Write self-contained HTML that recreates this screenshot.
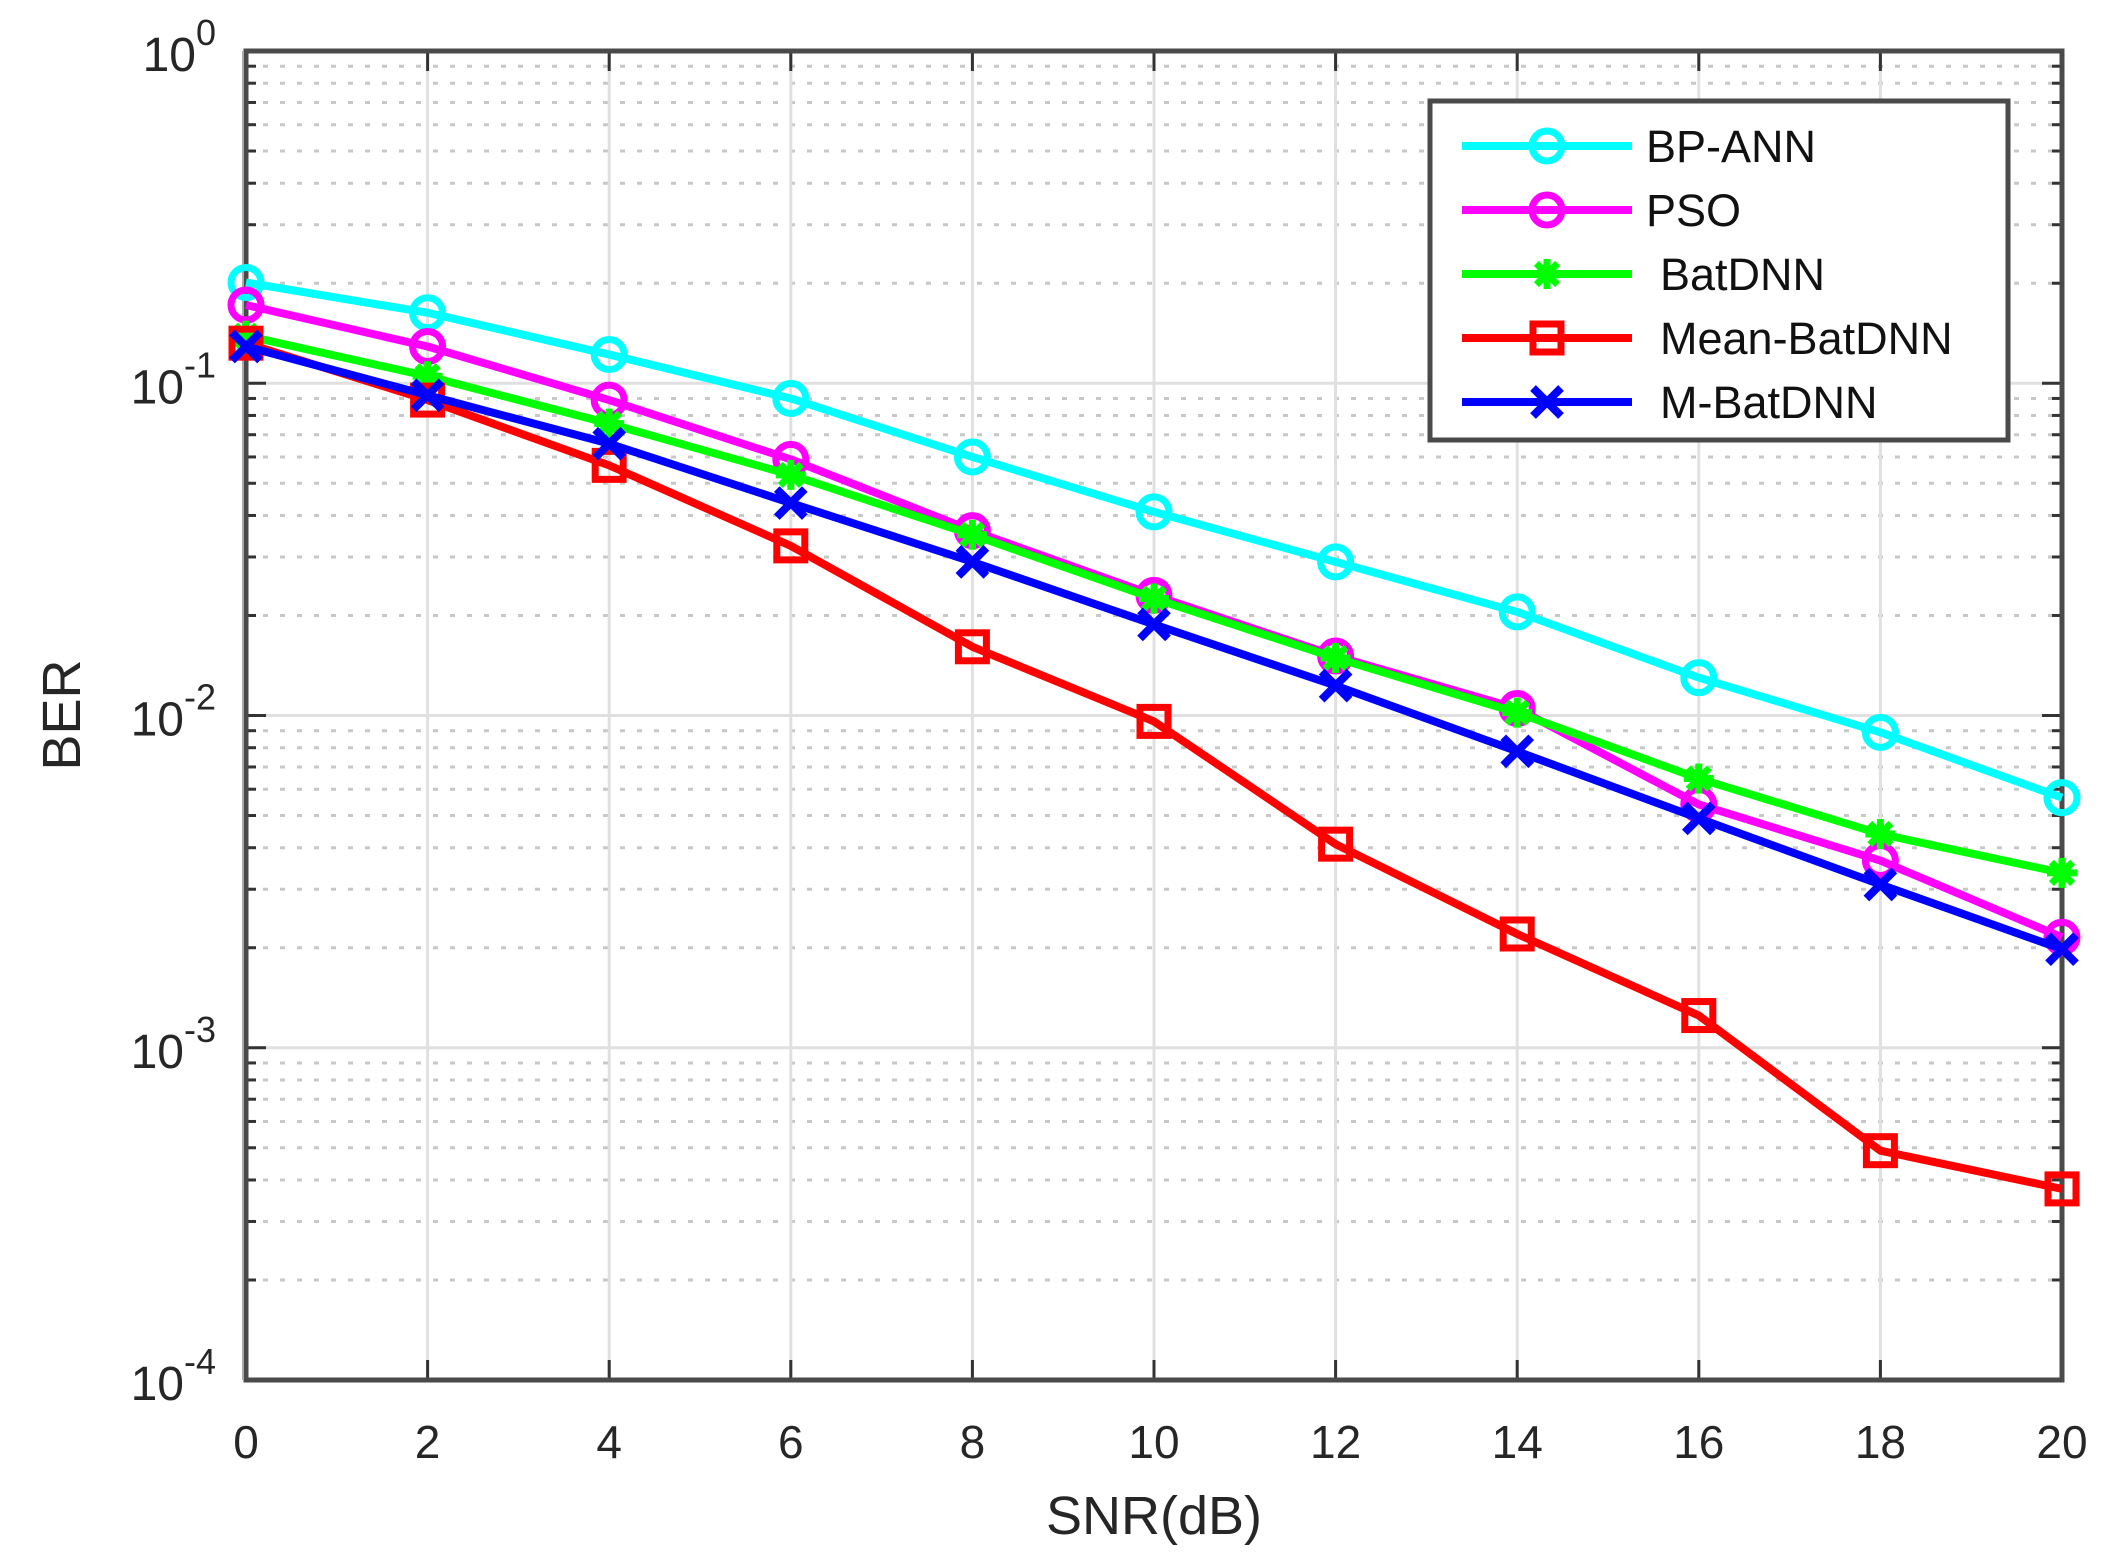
<!DOCTYPE html>
<html><head><meta charset="utf-8"><style>
html,body{margin:0;padding:0;background:#fff;}
svg{display:block;font-family:"Liberation Sans",Arial,sans-serif;}
</style></head><body>
<svg id="chart" width="2106" height="1566" viewBox="0 0 2106 1566" xmlns="http://www.w3.org/2000/svg"></svg>
<script>
const snr = [0,2,4,6,8,10,12,14,16,18,20];
const bpAnn = [0.201,0.163,0.122,0.090,0.060,0.041,0.029,0.0205,0.013,0.0089,0.00566];
const pso = [0.172,0.129,0.089,0.059,0.036,0.023,0.0151,0.0105,0.0054,0.00366,0.00215];
const batDnn = [0.139,0.105,0.0756,0.053,0.035,0.0225,0.0149,0.0102,0.00646,0.0044,0.00336];
const meanBatDnn = [0.132,0.089,0.0566,0.0324,0.0161,0.0096,0.0041,0.0022,0.00125,0.00049,0.000376];
const mBatDnn = [0.129,0.092,0.0658,0.0436,0.029,0.0188,0.0123,0.0078,0.0049,0.0031,0.00198];
const xTicks = [0,2,4,6,8,10,12,14,16,18,20];
const yExps = [0,-1,-2,-3,-4];

const L=246,R=2062,T=51,B=1380;
const NS="http://www.w3.org/2000/svg";
const svg=document.getElementById('chart');
function X(v){return L+(v-0)/20*(R-L);}
function Y(v){return T+(0-Math.log10(v))/4*(B-T);}
function mk(tag,attrs,parent){const e=document.createElementNS(NS,tag);for(const k in attrs)e.setAttribute(k,attrs[k]);(parent||svg).appendChild(e);return e;}

const grid=mk('g',{});


for(let e=-4;e<0;e++){for(let m=2;m<=9;m++){const y=Y(m*Math.pow(10,e));
 const ln=mk('line',{x1:L,x2:R,y1:y,y2:y,stroke:'#c8c8c8','stroke-width':3,'stroke-dasharray':'5 12'},grid);
 
 
 mk('line',{x1:L,x2:L+10,y1:y,y2:y,stroke:'#333','stroke-width':3},grid);
 mk('line',{x1:R-10,x2:R,y1:y,y2:y,stroke:'#333','stroke-width':3},grid);
}}
yExps.forEach(e=>{const y=Y(Math.pow(10,e));
 const ln=mk('line',{x1:L,x2:R,y1:y,y2:y,stroke:'#e0e0e0','stroke-width':3},grid);
 
 
 mk('line',{x1:L,x2:L+20,y1:y,y2:y,stroke:'#333','stroke-width':3},grid);
 mk('line',{x1:R-20,x2:R,y1:y,y2:y,stroke:'#333','stroke-width':3},grid);
 const t=mk('text',{x:216,y:y+20,'text-anchor':'end','font-size':48,fill:'#262626'});
 
 
 t.appendChild(document.createTextNode('10'));
 const s=mk('tspan',{dy:-26,'font-size':36},t);s.textContent=String(e);
});
xTicks.forEach(v=>{const x=X(v);
 const ln=mk('line',{x1:x,x2:x,y1:T,y2:B,stroke:'#e0e0e0','stroke-width':3},grid);
 
 
 mk('line',{x1:x,x2:x,y1:B-20,y2:B,stroke:'#333','stroke-width':3},grid);
 mk('line',{x1:x,x2:x,y1:T,y2:T+20,stroke:'#333','stroke-width':3},grid);
 const t=mk('text',{x:x,y:1458,'text-anchor':'middle','font-size':46,fill:'#262626'});
 
 
 t.textContent=String(v);
});
const box=mk('rect',{x:L,y:T,width:R-L,height:B-T,fill:'none',stroke:'#4a4a4a','stroke-width':5});


mk('line',{x1:L-3,x2:L-3,y1:T,y2:B,stroke:'#aaa','stroke-width':2});

const xl=mk('text',{x:(L+R)/2,y:1534,'text-anchor':'middle','font-size':54,fill:'#262626'});


xl.textContent='SNR(dB)';
const yl=mk('text',{x:0,y:0,'text-anchor':'middle','font-size':54,fill:'#262626',transform:'translate(80,715) rotate(-90)'});


yl.textContent='BER';

function marker(g,type,x,y,c){
 if(type==='o') mk('circle',{cx:x,cy:y,r:15,fill:'none',stroke:c,'stroke-width':7},g);
 else if(type==='s') mk('rect',{x:x-14,y:y-14,width:28,height:28,fill:'none',stroke:c,'stroke-width':7},g);
 else if(type==='*'){for(const a of [0,45,90,135]){const r=a*Math.PI/180;mk('line',{x1:x-15*Math.cos(r),y1:y-15*Math.sin(r),x2:x+15*Math.cos(r),y2:y+15*Math.sin(r),stroke:c,'stroke-width':7},g);}}
 else if(type==='x'){mk('line',{x1:x-14,y1:y-14,x2:x+14,y2:y+14,stroke:c,'stroke-width':8},g);mk('line',{x1:x-14,y1:y+14,x2:x+14,y2:y-14,stroke:c,'stroke-width':8},g);}
}
const series=[
 {name:'BP-ANN',vals:bpAnn,c:'#00ffff',m:'o',key:'series-bp-ann'},
 {name:'PSO',vals:pso,c:'#ff00ff',m:'o',key:'series-pso'},
 {name:'BatDNN',vals:batDnn,c:'#00ff00',m:'*',key:'series-batdnn'},
 {name:'Mean-BatDNN',vals:meanBatDnn,c:'#ff0000',m:'s',key:'series-mean-batdnn'},
 {name:'M-BatDNN',vals:mBatDnn,c:'#0000ff',m:'x',key:'series-m-batdnn'}
];
series.forEach(s=>{
 const g=mk('g',{});
 
 
 const pts=snr.map((v,i)=>X(v)+','+Y(s.vals[i])).join(' ');
 mk('polyline',{points:pts,fill:'none',stroke:s.c,'stroke-width':8,'stroke-linejoin':'round'},g);
 snr.forEach((v,i)=>marker(g,s.m,X(v),Y(s.vals[i]),s.c));
});

const lg=mk('g',{});


mk('rect',{x:1430,y:101,width:578,height:339,fill:'#fff',stroke:'#4a4a4a','stroke-width':5},lg);
series.forEach((s,i)=>{
 const y=146+i*64;
 const e=mk('g',{},lg);
 
 
 mk('line',{x1:1462,x2:1632,y1:y,y2:y,stroke:s.c,'stroke-width':8},e);
 marker(e,s.m,1547,y,s.c);
 const t=mk('text',{x:i<2?1646:1660,y:y+16,'font-size':45,fill:'#111'},e);
 t.textContent=s.name;
});
</script>
</body></html>
